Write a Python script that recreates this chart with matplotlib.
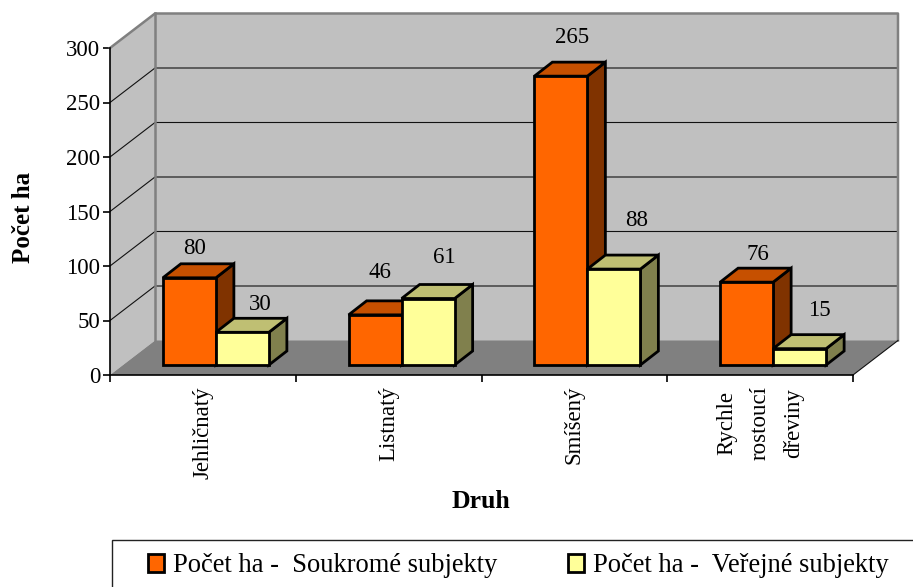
import numpy as np
import matplotlib
matplotlib.use('Agg')
import matplotlib.pyplot as plt
from matplotlib.patches import Polygon, Rectangle

plt.rcParams['font.family'] = ['Liberation Serif', 'DejaVu Serif']

categories = ['Jehličnatý', 'Listnatý', 'Smíšený', 'Rychle\nrostoucí\ndřeviny']
soukrome = [80, 46, 265, 76]
verejne = [30, 61, 88, 15]
y_ticks = [0, 50, 100, 150, 200, 250, 300]

# label nudges in pixels from the bar centre / bar top
nudge_x = [[5.5, 4.5, 11.5, 11.5], [17.5, 16.5, 23, 20]]
nudge_y = [[29, 42, 39, 28], [28, 41, 49, 38]]

W, H = 913, 587
L, R, T, B = 110, 853, 48, 375
px_x = 4 / (R - L)
px_y = 300 / (B - T)

wall_dx, wall_dy = 45 * px_x, 34.5 * px_y
bar_dx, bar_dy = 13 * px_x, 10 * px_y
depth_dx, depth_dy = 18 * px_x, 14 * px_y
bar_w = 53 * px_x

fig = plt.figure(figsize=(W / 100, H / 100), dpi=100)
ax = fig.add_axes([L / W, 1 - B / H, (R - L) / W, (B - T) / H])
ax.set_xlim(0, 4)
ax.set_ylim(0, 300)
ax.patch.set_visible(False)


def poly(points, color, edge='none', lw=0, z=1):
    ax.add_patch(Polygon(points, closed=True, facecolor=color, edgecolor=edge,
                         linewidth=lw, zorder=z, clip_on=False, joinstyle='miter'))


# walls and floor
poly([(wall_dx, wall_dy), (4 + wall_dx, wall_dy), (4 + wall_dx, 300 + wall_dy), (wall_dx, 300 + wall_dy)], '#C0C0C0')
poly([(0, 0), (wall_dx, wall_dy), (wall_dx, 300 + wall_dy), (0, 300)], '#C0C0C0')
poly([(0, 0), (4, 0), (4 + wall_dx, wall_dy), (wall_dx, wall_dy)], '#808080')

for v in y_ticks[1:-1]:
    ax.plot([0, wall_dx, 4 + wall_dx], [v, v + wall_dy, v + wall_dy], color='#111111', lw=0.8, zorder=2, clip_on=False)

grey = '#808080'
ax.plot([0, wall_dx, 4 + wall_dx, 4 + wall_dx], [300, 300 + wall_dy, 300 + wall_dy, wall_dy], color=grey, lw=1.8, zorder=2, clip_on=False)
ax.plot([wall_dx, wall_dx], [wall_dy, 300 + wall_dy], color=grey, lw=1.8, zorder=2, clip_on=False)
ax.plot([4, 4 + wall_dx], [0, wall_dy], color='#111111', lw=0.8, zorder=2, clip_on=False)

# bars
x = np.arange(4) + 0.5 + bar_dx
series = [
    (soukrome, x - bar_w / 2, '#FF6600', '#C65000', '#803300'),
    (verejne, x + bar_w / 2, '#FFFF99', '#BFBF73', '#80804D'),
]
z = 3
handles = []
for s, (vals, xs, front, top, side) in enumerate(series):
    for i, v in enumerate(vals):
        x0, x1 = xs[i] - bar_w / 2, xs[i] + bar_w / 2
        y0, y1 = bar_dy, v + bar_dy
        poly([(x1, y0), (x1 + depth_dx, y0 + depth_dy), (x1 + depth_dx, y1 + depth_dy), (x1, y1)],
             side, 'black', 2, z)
        poly([(x0, y1), (x1, y1), (x1 + depth_dx, y1 + depth_dy), (x0 + depth_dx, y1 + depth_dy)],
             top, 'black', 2, z)
        ax.text(xs[i] + nudge_x[s][i] * px_x, y1 + nudge_y[s][i] * px_y, str(v),
                ha='center', va='center', fontsize=16.5, zorder=6, clip_on=False)
    bars = ax.bar(xs, vals, width=bar_w, bottom=bar_dy, color=front, edgecolor='black',
                  linewidth=2, zorder=z + 1, clip_on=False)
    handles.append(bars)
    z += 2

# axes
for name in ['top', 'right']:
    ax.spines[name].set_visible(False)
for name in ['left', 'bottom']:
    ax.spines[name].set_linewidth(1.2)
    ax.spines[name].set_zorder(7)

ax.set_yticks(y_ticks)
ax.tick_params(axis='y', labelsize=16.5, length=5, width=1.2, pad=2)
ax.set_xticks(np.arange(5))
ax.set_xticklabels([])
ax.tick_params(axis='x', which='major', length=5, width=1.2)
ax.set_xticks(np.arange(4) + 0.5, minor=True)
ax.set_xticklabels(categories, minor=True, rotation=90, fontsize=16.5, va='top', ha='center', linespacing=1.75)
ax.tick_params(axis='x', which='minor', length=0, pad=8)

fig.text(24 / W, 1 - 217 / H, 'Počet ha', rotation=90, ha='center', va='center', fontsize=18, fontweight='bold')
fig.text(481 / W, 1 - 502 / H, 'Druh', ha='center', va='center', fontsize=18.5, fontweight='bold')

# legend box runs off the picture on the right and at the bottom
fig.add_artist(Rectangle((112 / W, -0.02), 1, 1 - 540 / H + 0.02, transform=fig.transFigure,
                         facecolor='white', edgecolor='#222222', linewidth=1.0))
leg = fig.legend(handles, ['Počet ha -  Soukromé subjekty', 'Počet ha -  Veřejné subjekty'],
                 loc='center left', bbox_to_anchor=(148 / W, 1 - 566 / H), ncol=2, frameon=False,
                 fontsize=19.1, handlelength=0.6, handleheight=0.68, handletextpad=0.36,
                 columnspacing=2.65, borderpad=0, borderaxespad=0)

fig.savefig('out.png', dpi=100)
